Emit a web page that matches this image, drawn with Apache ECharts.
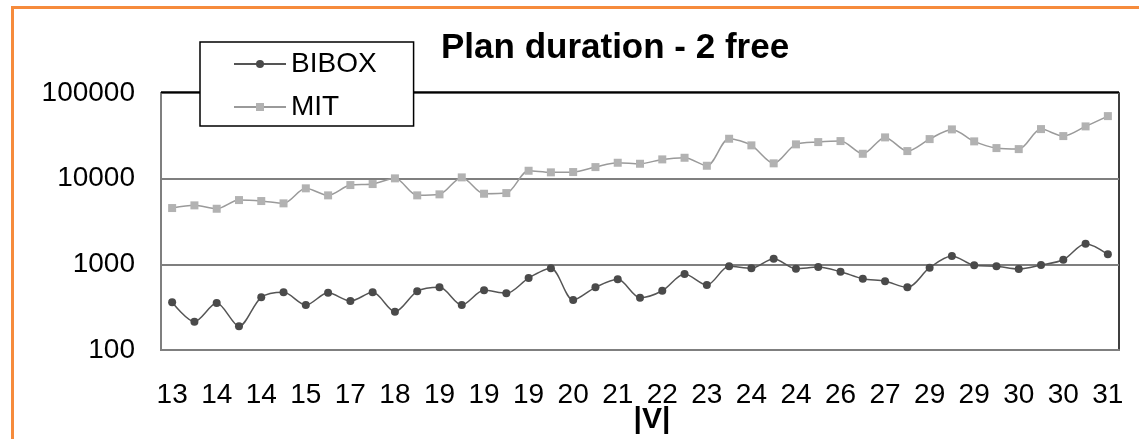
<!DOCTYPE html>
<html>
<head>
<meta charset="utf-8">
<script src="https://cdn.jsdelivr.net/npm/echarts@6/dist/echarts.min.js"></script>
<style>
  html, body { margin: 0; padding: 0; background: #fff; }
  #chart { width: 1139px; height: 439px; }
</style>
</head>
<body>
<div id="chart"></div>
<script>
// Day labels shown under every second point
const tickLabels = ['13', '14', '14', '15', '17', '18', '19', '19', '19', '20', '21',
                    '22', '23', '24', '24', '26', '27', '29', '29', '30', '30', '31'];

// Planning time per problem instance (log scale)
const bibox = [360, 214, 353, 189, 412, 471, 335, 466, 373, 471, 280, 484, 539, 335, 497,
               459, 692, 898, 383, 539, 668, 408, 492, 771, 573, 948, 898, 1163, 889, 930,
               820, 679, 634, 539, 913, 1250, 973, 948, 881, 982, 1132, 1740, 1308];
const mit = [4540, 4880, 4455, 5625, 5480, 5150, 7710, 6385, 8420, 8650, 10080, 6385, 6560, 10350, 6670,
             6790, 12370, 11850, 11950, 13650, 15340, 14930, 16790, 17540, 14150, 29240, 24480, 15100, 25140, 26730,
             27460, 19520, 30330, 20990, 28970, 37600, 27240, 22750, 22130, 37910, 31410, 40740, 53740];

// One category per point; only every second one carries a label
const categories = bibox.map((_, i) => (i % 2 === 0 ? tickLabels[i / 2] : ''));

const FONT = '"Liberation Sans", Arial, sans-serif';

const chart = echarts.init(document.getElementById('chart'), null, { renderer: 'canvas' });

chart.setOption({
  backgroundColor: '#fff',
  animation: false,
  title: {
    text: 'Plan duration - 2 free',
    left: 441,
    top: 31,
    padding: 0,
    textStyle: { fontFamily: FONT, fontSize: 35, fontWeight: 'bold', color: '#000' }
  },
  legend: {
    left: 200,
    top: 42,
    orient: 'vertical',
    padding: [8, 37, 5, 33],
    itemGap: 15,
    itemWidth: 52,
    itemHeight: 10,
    backgroundColor: '#fff',
    borderColor: '#000',
    borderWidth: 1.5,
    borderRadius: 0,
    textStyle: { fontFamily: FONT, fontSize: 28, color: '#000' },
    data: ['BIBOX', 'MIT'],
    z: 10
  },
  grid: {
    left: 161,
    right: 20,
    top: 93,
    bottom: 89,
    show: true,
    borderColor: '#000',
    borderWidth: 1.5,
    backgroundColor: 'transparent'
  },
  xAxis: {
    type: 'category',
    data: categories,
    boundaryGap: true,
    axisLine: { show: true, lineStyle: { color: '#7f7f7f', width: 2 } },
    axisTick: { show: false },
    axisLabel: {
      interval: 1,
      margin: 31,
      fontFamily: FONT,
      fontSize: 28,
      color: '#000'
    },
    splitLine: { show: false }
  },
  yAxis: {
    type: 'log',
    logBase: 10,
    min: 100,
    max: 100000,
    axisLine: { show: true, lineStyle: { color: '#7f7f7f', width: 2 } },
    axisTick: { show: false },
    axisLabel: {
      margin: 26,
      fontFamily: FONT,
      fontSize: 28,
      color: '#000',
      formatter: (v) => String(Math.round(v))
    },
    splitLine: { show: true, lineStyle: { color: '#7f7f7f', width: 2 } }
  },
  series: [
    {
      name: 'BIBOX',
      type: 'line',
      data: bibox,
      smooth: 0.3,
      symbol: 'circle',
      symbolSize: 8,
      lineStyle: { color: '#555555', width: 1.5 },
      itemStyle: { color: '#4a4a4a' },
      z: 3
    },
    {
      name: 'MIT',
      type: 'line',
      data: mit,
      smooth: 0.3,
      symbol: 'rect',
      symbolSize: 8,
      lineStyle: { color: '#9a9a9a', width: 1.5 },
      itemStyle: { color: '#b2b2b2' },
      z: 3
    }
  ],
  graphic: [
    {
      type: 'rect',
      silent: true,
      shape: { x: 12.5, y: 7.5, width: 1200, height: 500 },
      style: { fill: 'none', stroke: '#F68B3C', lineWidth: 3 },
      z: 20
    },
    {
      type: 'rect',
      silent: true,
      shape: { x: 161, y: 92.25, width: 958, height: 0 },
      style: { stroke: '#000', lineWidth: 2 },
      z: 1
    },
    {
      type: 'text',
      silent: true,
      x: 652,
      y: 405,
      style: {
        text: '|V|',
        fontFamily: FONT,
        fontSize: 30,
        fontWeight: 'bold',
        fill: '#000',
        align: 'center',
        verticalAlign: 'top'
      },
      z: 20
    }
  ]
});
</script>
</body>
</html>
